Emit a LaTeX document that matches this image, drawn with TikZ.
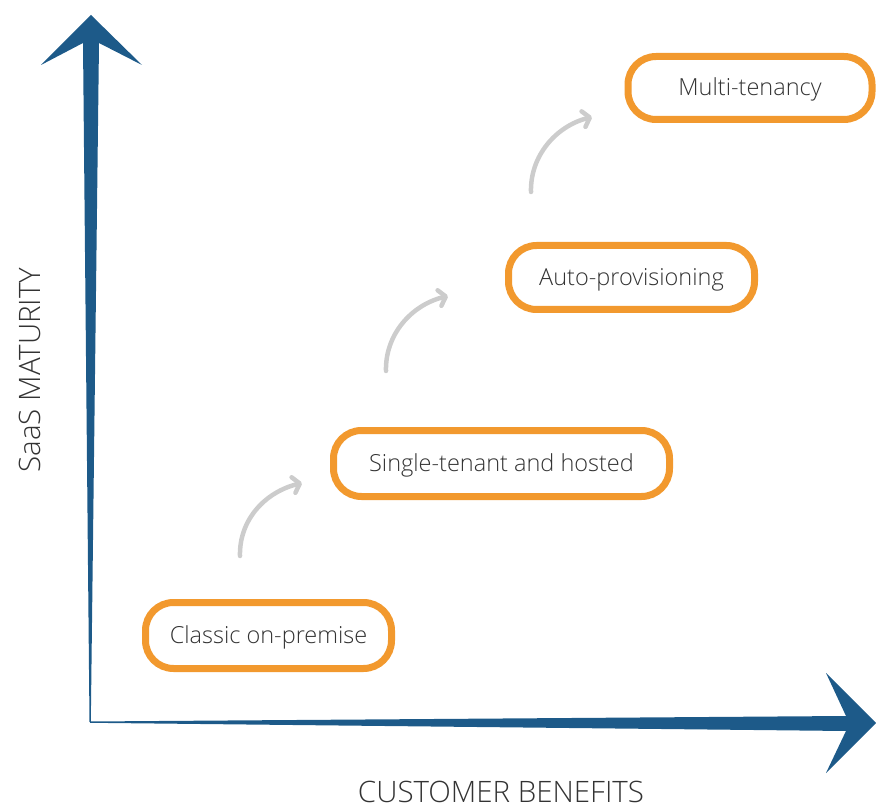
\documentclass[tikz,border=0pt]{standalone}
\usepackage{fontspec}
\setmainfont{Open Sans Light}
\usetikzlibrary{arrows.meta}
\definecolor{axisblue}{HTML}{1D5A89}
\definecolor{stageorange}{HTML}{F2992E}
\definecolor{stepgray}{HTML}{CCCCCC}
\definecolor{textgray}{HTML}{333333}
\begin{document}
\begin{tikzpicture}[x=1pt,y=-1pt,
  stage/.style={draw=stageorange, line width=7pt, rounded corners=28pt,
    fill=white, text=textgray, font=\fontsize{23.5}{28}\selectfont,
    inner sep=0pt, text height=1.6em, text depth=0pt, minimum height=66pt},
  stepper/.style={draw=stepgray, line width=4.5pt, line cap=round,
    -{Straight Barb[length=6.5pt,width=16pt,round]}},
  axislabel/.style={text=textgray, font=\fontsize{29.5}{34}\selectfont, inner sep=0pt}]
\useasboundingbox (0,0) rectangle (876,810);

% vertical axis: tapered shaft with barbed head
\fill[axisblue] (89.5,722) -- (83,43) -- (41,65) -- (91,15) -- (142,65)
  -- (99,43) -- (90.8,722) -- cycle;
% horizontal axis
\fill[axisblue] (90,721.5) -- (846,716) -- (826,673) -- (876,723)
  -- (826,773) -- (846,731) -- (90,722.8) -- cycle;

% maturity stages
\node[stage, minimum width=246pt] (classic) at (268.5,635.5) {Classic on-premise};
\node[stage, minimum width=336pt] (single) at (501.5,463.5) {Single-tenant and hosted};
\node[stage, minimum width=246pt, minimum height=64pt] (auto) at (631.5,277.5) {Auto-provisioning};
\node[stage, minimum width=244pt, minimum height=63pt] (multi) at (750,88) {Multi-tenancy};

% step arrows between stages
\coordinate (s1) at (240,556);
\coordinate (e1) at (302,483);
\coordinate (s2) at (386,371);
\coordinate (e2) at (448,296);
\coordinate (s3) at (531,192);
\coordinate (e3) at (592,117);
\draw[stepper] (s1) .. controls (239,520) and (265,492) .. (e1);
\draw[stepper] (s2) .. controls (385,335) and (411,305) .. (e2);
\draw[stepper] (s3) .. controls (530,156) and (556,126) .. (e3);

% axis labels
\node[axislabel, rotate=90] (ylab) at (30,370) {SaaS MATURITY};
\node[axislabel] (xlab) at (501,792) {CUSTOMER BENEFITS};
\end{tikzpicture}
\end{document}
